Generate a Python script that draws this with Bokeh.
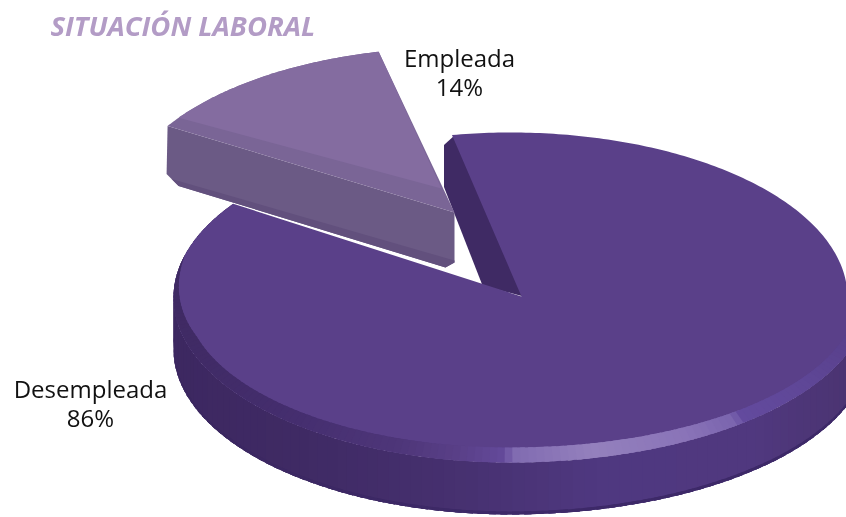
import numpy as np
from bokeh.plotting import figure
from bokeh.core.properties import value
from bokeh.embed import file_html
from bokeh.resources import INLINE

# --- data ---
title = "SITUACIÓN LABORAL"
categories = ["Empleada", "Desempleada"]
shares = [14, 86]

# --- layout (pixels of the picture) ---
W, H = 846, 517
SWEEP = 0.9            # foreshortening of the slice's angle in the picture
T_BIG, T_SMALL = 100.0, 103.0
CX, CY, RX, RX_LR, RY = 510.0, 297.0, 337.0, 358.0, 165.0
APEX = (521.0, 296.0)
APEX_S = (454.0, 212.0)
DEPTH = 52.0
sweep = 360 * shares[0] / sum(shares) * SWEEP


def rim(t, dx=0.0, dy=0.0, y=0.0):
    t = np.radians(np.asarray(t, float))
    c, s = np.cos(t), np.sin(t)
    rx = np.where((c > 0) & (s < 0), RX_LR, RX) - dx
    return CX + rx * c, CY - (RY - dy) * s + y


def inner_rim(t):
    f = float(np.clip((t - 165) / 30, 0, 1))
    return rim(t, dx=12 * f, dy=15 * f)


def hex2(c):
    return np.array([int(c[i:i + 2], 16) for i in (1, 3, 5)], float)


def ramp(x, stops):
    xs = [s[0] for s in stops]
    cs = np.array([hex2(s[1]) for s in stops])
    rgb = [np.interp(x, xs, cs[:, k]) for k in range(3)]
    return "#%02x%02x%02x" % tuple(int(round(v)) for v in rgb)


WALL = [(173, "#3d2861"), (300, "#3f2a64"), (450, "#46306f"), (600, "#4f3880"),
        (750, "#50387f"), (846, "#4b3472")]
BEVEL = [(173, "#3f2a63"), (300, "#452e6f"), (400, "#4e3679"), (460, "#5a4088"),
         (507, "#644a9c"), (509, "#7f6ab0"), (590, "#9480bd"), (680, "#8a74b8"),
         (731, "#7a64ae"), (734, "#634a9e"), (800, "#5f4797"), (846, "#59408c")]

p = figure(width=W, height=H, x_range=(0, W), y_range=(H, 0), toolbar_location=None,
           output_backend="svg", min_border=0, outline_line_color=None,
           background_fill_color="white", border_fill_color="white")
p.axis.visible = False
p.grid.visible = False
p.styles = {"position": "fixed", "left": "0", "top": "0"}


def strips(t0, t1, n, inner, outer, stops):
    # each strip runs on under the next one, so that no seam shows between them
    ts = np.linspace(t0, t1, n + 1)
    step = ts[1] - ts[0]
    xs, ys, cols = [], [], []
    for a in ts[:-1]:
        b = min(a + step * 1.6, t1)
        ax, ay = inner(a)
        bx, by = inner(b)
        cx, cy = outer(b)
        dx, dy = outer(a)
        xs.append([float(v) for v in (ax, bx, cx, dx)])
        ys.append([float(v) for v in (ay, by, cy, dy)])
        mx, _ = inner(a + step / 2)
        cols.append(ramp(float(mx), stops))
    p.patches(xs, ys, fill_color=cols, line_color=None)


# big slice: wall, cut face, top, bevel
t_big_end = T_BIG + sweep
strips(t_big_end, 360, 110, lambda t: rim(t), lambda t: rim(t, y=DEPTH), WALL)
strips(t_big_end, 360, 110, lambda t: rim(t, y=DEPTH - 3), lambda t: rim(t, y=DEPTH),
       [(173, "#3b2760"), (500, "#3d2968"), (846, "#3d2968")])
px, py = rim(T_BIG)
px, py = float(px), float(py)
p.patch([px - 8, px + 3, APEX[0] + 2, APEX[0] - 39, px - 8],
        [py + 10, py, APEX[1], APEX[1] - 11, py + 52],
        fill_color="#3f2a64", line_color=None)
ts = np.linspace(t_big_end, T_BIG + 360, 400)
rx_, ry_ = rim(ts)
p.patch(list(rx_) + [APEX[0]], list(ry_) + [APEX[1]], fill_color="#5a4089", line_color=None)
strips(165, 360, 150, inner_rim, lambda t: rim(t), BEVEL)

# exploded slice
t_end = T_SMALL + sweep
ts = np.radians(np.linspace(T_SMALL, t_end, 80))
ax_ = APEX_S[0] + RX * np.cos(ts)
ay_ = APEX_S[1] - RY * np.sin(ts)
cornerx, cornery = float(ax_[-1]), float(ay_[-1])
# wall
p.patch([cornerx, APEX_S[0], APEX_S[0], APEX_S[0] - 9, cornerx + 11, cornerx - 1],
        [cornery, APEX_S[1], APEX_S[1] + 50, APEX_S[1] + 55, cornery + 60, cornery + 48],
        fill_color="#6b5a85", line_color=None)
p.patch([cornerx + 4, APEX_S[0], APEX_S[0], APEX_S[0] - 9, cornerx + 11],
        [cornery + 53, APEX_S[1] + 48, APEX_S[1] + 50, APEX_S[1] + 55, cornery + 60],
        fill_color="#62507d", line_color=None)
# bevel + top
p.patch([APEX_S[0]] + list(ax_), [APEX_S[1]] + list(ay_), fill_color="#7a6596", line_color=None)
keep = ts <= np.radians(t_end - 3)
p.patch([APEX_S[0] - 13] + list(ax_[keep]), [APEX_S[1] - 24] + list(ay_[keep]),
        fill_color="#846ca0", line_color=None)

# texts
p.text([50], [25], text=[title], text_font=value("Open Sans"), text_font_size="27.5px",
       text_font_style="bold italic", text_color="#b39cc6", text_align="left", text_baseline="middle")
label_x = [459, 90]
label_y = [57, 388]
p.text(label_x, label_y, text=categories, text_font=value("Open Sans"), text_font_size="24px",
       text_color="#111111", text_align="center", text_baseline="middle")
p.text(label_x, [y + 29 for y in label_y], text=[f"{s}%" for s in shares], text_font=value("Open Sans"),
       text_font_size="24px", text_color="#111111", text_align="center", text_baseline="middle")

open("out.html", "w").write(file_html(p, INLINE))
